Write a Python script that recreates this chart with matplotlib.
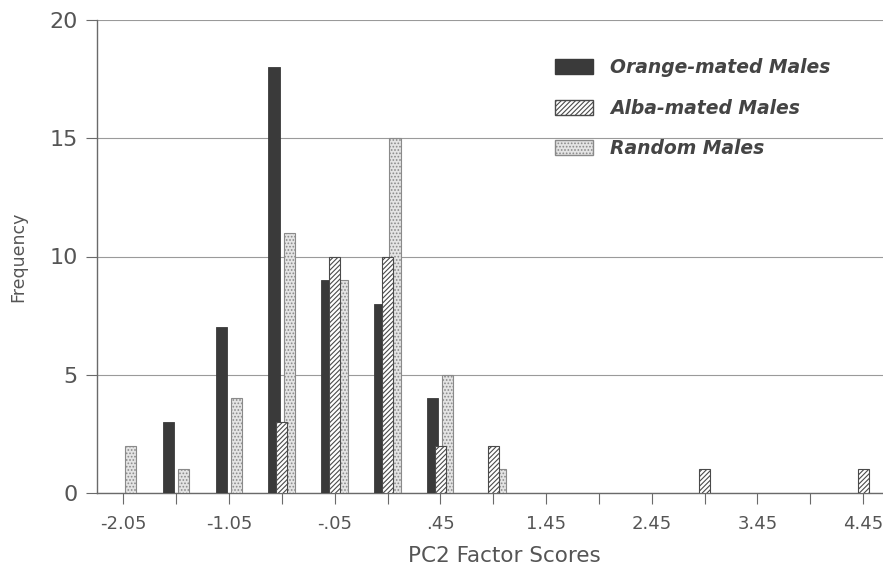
"""PC2 factor score histogram for three groups of males."""
import matplotlib
matplotlib.use('Agg')
import matplotlib.pyplot as plt
from matplotlib.patches import Patch
import numpy as np

plt.rcParams['font.family'] = 'DejaVu Sans'
plt.rcParams['hatch.linewidth'] = 0.8

# one entry per bin, 15 bins of width .5 starting at -2.05
bin_labels = ['-2.05', '', '-1.05', '', '-.05', '', '.45', '', '1.45', '',
              '2.45', '', '3.45', '', '4.45']
orange = [0, 3, 7, 18, 9, 8, 4, 0, 0, 0, 0, 0, 0, 0, 0]
alba = [0, 0, 0, 3, 10, 10, 2, 2, 0, 0, 0, 1, 0, 0, 1]
random_m = [2, 1, 4, 11, 9, 15, 5, 1, 0, 0, 0, 0, 0, 0, 0]
series_names = ['Orange-mated Males', 'Alba-mated Males', 'Random Males']

W, H = 883, 568
fig = plt.figure(figsize=(W / 100, H / 100), dpi=100)
ax = fig.add_axes([97 / W, 1 - 493 / H, (889.5 - 97) / W, (493 - 20) / H])

x = np.arange(len(bin_labels))
bw = 0.21
grey = '#555555'

mask = lambda v: [i for i in range(len(v)) if v[i] > 0]

def draw(vals, off, **kw):
    idx = mask(vals)
    ax.bar(x[idx] + off, np.array(vals)[idx], width=bw, align='center', **kw)

draw(orange, -0.15, color='#3a3a3a', edgecolor='#3a3a3a', linewidth=0.6, zorder=3)
draw(random_m, 0.14, facecolor='#e4e4e4', edgecolor='#8a8a8a', hatch='.....',
     linewidth=0.8, zorder=3)
draw(alba, 0.0, facecolor='white', edgecolor='#4a4a4a', hatch='///////',
     linewidth=0.8, zorder=4)

ax.set_xlim(-0.5, 14.5)
ax.set_ylim(0, 20)
ax.set_yticks([0, 5, 10, 15, 20])
ax.set_xticks(x)
ax.set_xticklabels(bin_labels)
ax.grid(axis='y', color='#9a9a9a', linewidth=0.8, zorder=0)
ax.set_axisbelow(True)

for s in ['top', 'right']:
    ax.spines[s].set_visible(False)
for s in ['left', 'bottom']:
    ax.spines[s].set_color('#6a6a6a')
    ax.spines[s].set_linewidth(1.0)

ax.tick_params(axis='y', length=8, width=0.8, color='#6a6a6a', pad=6,
               labelsize=16, labelcolor=grey)
ax.tick_params(axis='x', length=8, width=0.8, color='#6a6a6a', pad=8,
               labelsize=13, labelcolor=grey)

ax.set_ylabel('Frequency', fontsize=12.5, color=grey)
ax.yaxis.set_label_coords(-(97 - 27) / (889.5 - 97), 0.5)
ax.set_xlabel('PC2 Factor Scores', fontsize=15.5, color=grey)
ax.xaxis.set_label_coords((504 - 97) / (889.5 - 97), -0.112)

handles = [
    Patch(facecolor='#3a3a3a', edgecolor='#3a3a3a'),
    Patch(facecolor='white', edgecolor='#4a4a4a', hatch='///////'),
    Patch(facecolor='#e4e4e4', edgecolor='#8a8a8a', hatch='.....'),
]
leg = ax.legend(handles, series_names, loc='upper left',
                bbox_to_anchor=(555 / W, 1 - 58 / H), bbox_transform=fig.transFigure,
                frameon=False, fontsize=13.5, handlelength=2.0, handleheight=0.85,
                handletextpad=0.95, labelspacing=1.15, borderpad=0, borderaxespad=0)
for t in leg.get_texts():
    t.set_color('#444444')
    t.set_fontstyle('italic')
    t.set_fontweight('semibold')

fig.savefig('out.png', dpi=100)
